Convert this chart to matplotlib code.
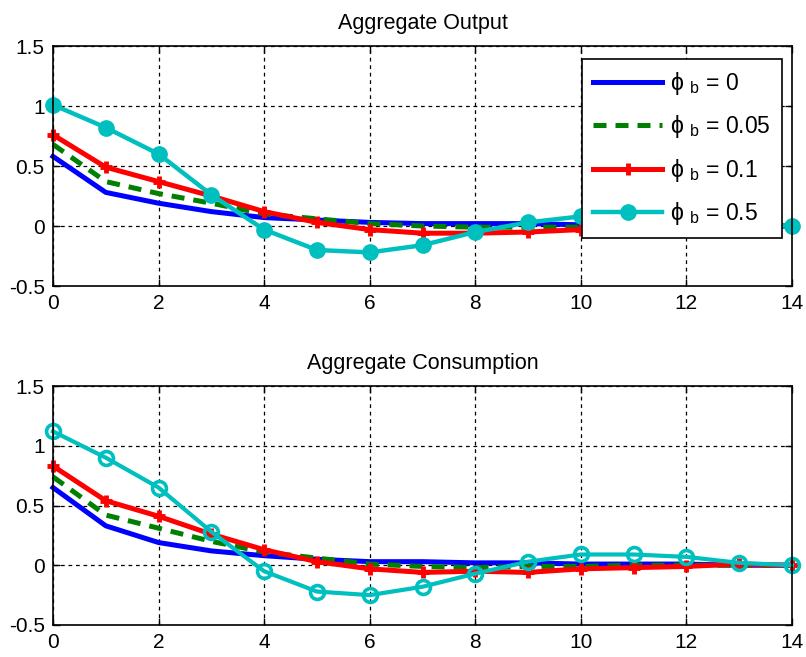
import numpy as np
import matplotlib.pyplot as plt

plt.rcParams['font.family'] = ['Liberation Sans', 'DejaVu Sans']
plt.rcParams['mathtext.fontset'] = 'custom'
plt.rcParams['mathtext.rm'] = 'Liberation Sans'
plt.rcParams['mathtext.it'] = 'Liberation Sans'

horizon = np.arange(0, 15)

# Aggregate Output
out_b0 = [0.58, 0.28, 0.19, 0.12, 0.07, 0.05, 0.03, 0.02, 0.02, 0.02, 0.01, 0.01, 0.01, 0.0, 0.0]
out_b005 = [0.68, 0.37, 0.27, 0.19, 0.10, 0.06, 0.02, 0.0, -0.01, -0.01, -0.01, 0.0, 0.0, 0.0, 0.0]
out_b01 = [0.76, 0.49, 0.37, 0.25, 0.12, 0.03, -0.03, -0.06, -0.06, -0.05, -0.03, -0.02, -0.01, 0.0, 0.0]
out_b05 = [1.01, 0.82, 0.60, 0.26, -0.03, -0.20, -0.22, -0.16, -0.05, 0.03, 0.08, 0.08, 0.06, 0.02, 0.0]

# Aggregate Consumption
con_b0 = [0.65, 0.33, 0.19, 0.12, 0.08, 0.05, 0.03, 0.03, 0.02, 0.02, 0.01, 0.01, 0.01, 0.0, 0.0]
con_b005 = [0.74, 0.42, 0.31, 0.20, 0.11, 0.06, 0.01, -0.01, -0.02, -0.01, -0.01, 0.0, 0.0, 0.0, 0.0]
con_b01 = [0.83, 0.54, 0.41, 0.26, 0.13, 0.03, -0.03, -0.06, -0.05, -0.06, -0.03, -0.02, -0.01, 0.01, 0.0]
con_b05 = [1.12, 0.90, 0.65, 0.28, -0.05, -0.22, -0.25, -0.18, -0.07, 0.03, 0.09, 0.09, 0.07, 0.02, 0.0]

labels = [r'$\phi\ _{\mathrm{b}}$ = 0', r'$\phi\ _{\mathrm{b}}$ = 0.05',
          r'$\phi\ _{\mathrm{b}}$ = 0.1', r'$\phi\ _{\mathrm{b}}$ = 0.5']

CYAN = (0.0, 0.75, 0.75)

fig = plt.figure(figsize=(8.06, 6.57), dpi=100)
W, H = 806, 657
ax1 = fig.add_axes([53 / W, 1 - 286 / H, 739 / W, 240 / H])
ax2 = fig.add_axes([53 / W, 1 - 625 / H, 739 / W, 239 / H])


def draw(ax, s0, s1, s2, s3, filled, title):
    ax.plot(horizon, s0, color='blue', lw=3.6, label=labels[0])
    ax.plot(horizon, s1, color=(0, 0.5, 0), lw=3.6, ls=(0, (2.6, 1.8)), label=labels[1])
    ax.plot(horizon, s2, color='red', lw=3.6, marker='+', ms=9, mew=3.5, label=labels[2])
    if filled:
        ax.plot(horizon, s3, color=CYAN, lw=3.2, marker='o', ms=11, mfc=CYAN, mec=CYAN, label=labels[3])
    else:
        ax.plot(horizon, s3, color=CYAN, lw=3.0, marker='o', ms=10, mfc='none', mec=CYAN, mew=2.6,
                label=labels[3])
    ax.set_xlim(0, 14)
    ax.set_ylim(-0.5, 1.5)
    ax.set_xticks(np.arange(0, 15, 2))
    ax.set_yticks([-0.5, 0, 0.5, 1, 1.5])
    ax.set_yticklabels(['-0.5', '0', '0.5', '1', '1.5'])
    ax.grid(True, color='black', ls=(0, (3, 3)), lw=0.9)
    ax.tick_params(direction='in', labelsize=15, length=5, width=1, top=True, right=True, pad=6)
    for sp in ax.spines.values():
        sp.set_linewidth(1.2)
    ax.set_title(title, fontsize=15.5, pad=12)
    for line in ax.get_lines():
        line.set_clip_on(False)


draw(ax1, out_b0, out_b005, out_b01, out_b05, True, 'Aggregate Output')
draw(ax2, con_b0, con_b005, con_b01, con_b05, False, 'Aggregate Consumption')

leg = ax1.legend(loc='upper right', bbox_to_anchor=(782 / W, 1 - 59 / H), bbox_transform=fig.transFigure,
                 fontsize=16.5, handlelength=3.0, labelspacing=0.7, borderpad=0.5, handletextpad=0.35,
                 fancybox=False, framealpha=1, edgecolor='black', borderaxespad=0)
leg.get_frame().set_linewidth(1.2)
leg.set_zorder(10)

fig.savefig('out.png', dpi=100)
